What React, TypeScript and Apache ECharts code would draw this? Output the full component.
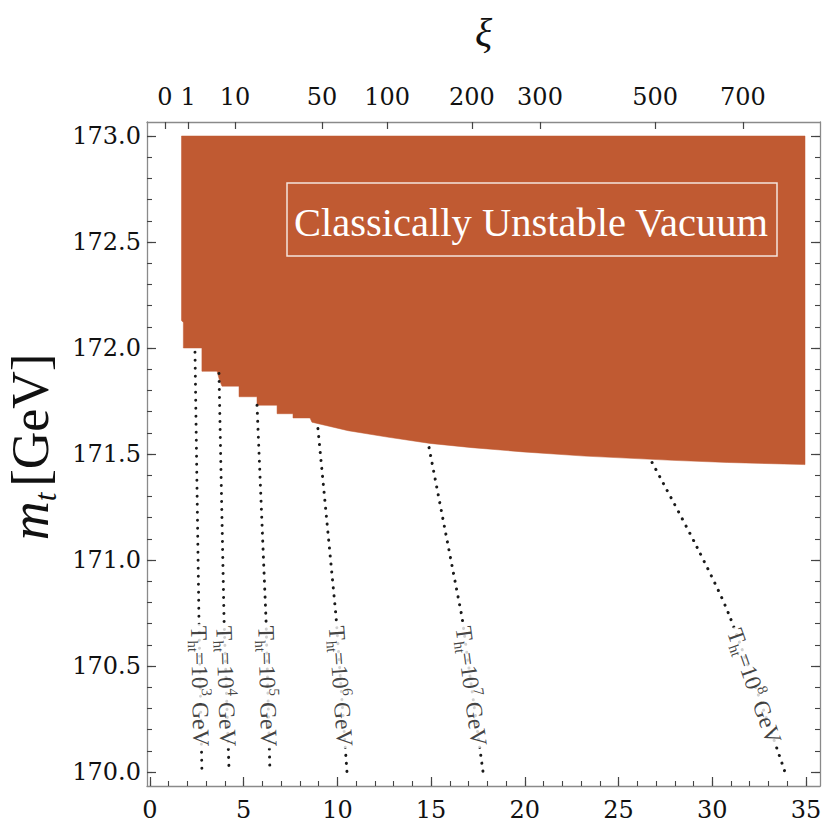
import React, { useEffect, useRef } from "react";
import * as echarts from "echarts";

// ---- axis ranges ----
const xMin = -0.16;
const xMax = 35.75;
const yMin = 169.934;
const yMax = 173.066;

// ---- tick values / labels ----
const xMajorTicks = [0, 5, 10, 15, 20, 25, 30, 35];
const xMinorTicks = [0, 1, 2, 3, 4, 5, 6, 7, 8, 9, 10, 11, 12, 13, 14, 15, 16, 17, 18, 19, 20, 21, 22, 23, 24, 25, 26, 27, 28, 29, 30, 31, 32, 33, 34, 35];
const yMajorTicks = [170.0, 170.5, 171.0, 171.5, 172.0, 172.5, 173.0];
const yMinorTicks = [170.0, 170.1, 170.2, 170.3, 170.4, 170.5, 170.6, 170.7, 170.8, 170.9, 171.0, 171.1, 171.2, 171.3, 171.4, 171.5, 171.6, 171.7, 171.8, 171.9, 172.0, 172.1, 172.2, 172.3, 172.4, 172.5, 172.6, 172.7, 172.8, 172.9, 173.0];
const xiLabels = ["0", "1", "10", "50", "100", "200", "300", "500", "700"];
const xiPositions = [0.8, 2.03, 4.54, 9.18, 12.65, 17.18, 20.81, 26.95, 31.64];

// ---- unstable region boundary ----
const regionX = [1.68, 1.68, 1.78, 1.78, 2.77, 2.77, 3.58, 3.7, 3.84, 4.75, 4.75, 5.71, 5.71, 6.78, 6.78, 7.63, 7.63, 8.54, 8.64, 10.57, 12.65, 14.94, 17.18, 19.9, 23.2, 27.9, 30.8, 34.95, 34.95];
const regionY = [173.0, 172.13, 172.12, 172.0, 172.0, 171.89, 171.89, 171.85, 171.82, 171.82, 171.77, 171.77, 171.73, 171.73, 171.69, 171.69, 171.67, 171.67, 171.65, 171.61, 171.58, 171.55, 171.53, 171.51, 171.49, 171.47, 171.46, 171.45, 173.0];

// ---- T_ht contours ----
const t3X = [2.4, 2.61, 2.77];
const t3Y = [171.98, 170.73, 170.0];
const t4X = [3.68, 3.95, 4.22];
const t4Y = [171.88, 170.72, 170.0];
const t5X = [5.71, 6.19, 6.4];
const t5Y = [171.73, 170.72, 170.0];
const t6X = [8.96, 9.93, 10.51];
const t6Y = [171.62, 170.73, 170.0];
const t7X = [14.89, 16.65, 17.77];
const t7Y = [171.53, 170.73, 170.0];
const t8X = [26.79, 29.19, 30.95, 33.88];
const t8Y = [171.46, 171.06, 170.73, 170.0];
const contourExponents = ["3", "4", "5", "6", "7", "8"];
const labelCenterY = 170.405;

const FONT = "'Liberation Serif', 'DejaVu Serif', serif";
const TICKFONT = "'DejaVu Serif', serif";
const BROWN = "#C05A32";

export default function App() {
  const ref = useRef<HTMLDivElement>(null);
  useEffect(() => {
    if (!ref.current) return;
    const chart = echarts.init(ref.current, undefined, { renderer: "svg" });
    const curves = [
      [t3X, t3Y],
      [t4X, t4Y],
      [t5X, t5Y],
      [t6X, t6Y],
      [t7X, t7Y],
      [t8X, t8Y],
    ];
    const frameColor = "#8a8a8a";
    const tickColor = "#444";

    const xAxisBase = {
      type: "value",
      min: xMin,
      max: xMax,
      splitLine: { show: false },
    };
    const yAxisBase = {
      type: "value",
      min: yMin,
      max: yMax,
      splitLine: { show: false },
    };

    const curveSeries = curves.map(([xs, ys], i) => ({
      type: "line",
      name: "T" + contourExponents[i],
      data: xs.map((x, j) => [x, ys[j]]),
      showSymbol: false,
      smooth: i === 5 ? 0.3 : false,
      silent: true,
      z: 3,
      lineStyle: { color: "#1a1a1a", width: 3, type: [0.1, 7.9], cap: "round" },
    }));

    const tickLabelStyle = { fontSize: 24, fontFamily: TICKFONT, color: "#111" };

    const option: any = {
      animation: false,
      backgroundColor: "#ffffff",
      grid: { left: 147, right: 17, top: 122, bottom: 44, containLabel: false, outerBoundsMode: "none" },
      xAxis: [
        {
          ...xAxisBase,
          position: "bottom",
          axisLine: { show: true, onZero: false, lineStyle: { color: frameColor, width: 1.3 } },
          axisTick: { show: true, inside: true, length: 9, customValues: xMajorTicks, lineStyle: { color: tickColor, width: 1.2 } },
          axisLabel: { show: true, customValues: xMajorTicks, margin: 12, ...tickLabelStyle },
        },
        {
          ...xAxisBase,
          position: "bottom",
          axisLine: { show: false, onZero: false },
          axisTick: { show: true, inside: true, length: 5, customValues: xMinorTicks, lineStyle: { color: tickColor, width: 1.1 } },
          axisLabel: { show: false },
        },
        {
          ...xAxisBase,
          position: "top",
          axisLine: { show: true, onZero: false, lineStyle: { color: frameColor, width: 1.3 } },
          axisTick: { show: true, inside: true, length: 7, customValues: xiPositions, lineStyle: { color: tickColor, width: 1.2 } },
          axisLabel: {
            show: true,
            customValues: xiPositions,
            margin: 13,
            ...tickLabelStyle,
            formatter: (v: number) => {
              let best = 0;
              xiPositions.forEach((p, i) => {
                if (Math.abs(p - v) < Math.abs(xiPositions[best] - v)) best = i;
              });
              return xiLabels[best];
            },
          },
          name: "ξ",
          nameLocation: "middle",
          nameGap: 70,
          nameTextStyle: { fontSize: 40, fontStyle: "italic", fontFamily: FONT, color: "#111" },
        },
      ],
      yAxis: [
        {
          ...yAxisBase,
          position: "left",
          axisLine: { show: true, onZero: false, lineStyle: { color: frameColor, width: 1.3 } },
          axisTick: { show: true, inside: true, length: 9, customValues: yMajorTicks, lineStyle: { color: tickColor, width: 1.2 } },
          axisLabel: {
            show: true,
            customValues: yMajorTicks,
            margin: 6,
            ...tickLabelStyle,
            formatter: (v: number) => v.toFixed(1),
          },
          name: "{i|m}{s|t}  {n|[GeV]}",
          nameLocation: "middle",
          nameRotate: 90,
          nameGap: 76,
          nameTextStyle: {
            fontFamily: FONT,
            color: "#111",
            rich: {
              i: { fontSize: 54, fontStyle: "italic", fontFamily: FONT, color: "#111", lineHeight: 62, verticalAlign: "middle", padding: [0, 0, 0, 14] },
              s: { fontSize: 31, fontStyle: "italic", fontFamily: FONT, color: "#111", verticalAlign: "bottom", lineHeight: 62 },
              n: { fontSize: 52, fontFamily: FONT, color: "#111", lineHeight: 62, verticalAlign: "middle" },
            },
          },
        },
        {
          ...yAxisBase,
          position: "left",
          axisLine: { show: false, onZero: false },
          axisTick: { show: true, inside: true, length: 5, customValues: yMinorTicks, lineStyle: { color: tickColor, width: 1.1 } },
          axisLabel: { show: false },
        },
        {
          ...yAxisBase,
          position: "right",
          axisLine: { show: true, onZero: false, lineStyle: { color: frameColor, width: 1.3 } },
          axisTick: { show: true, inside: true, length: 9, customValues: yMajorTicks, lineStyle: { color: tickColor, width: 1.2 } },
          axisLabel: { show: false },
        },
        {
          ...yAxisBase,
          position: "right",
          axisLine: { show: false, onZero: false },
          axisTick: { show: true, inside: true, length: 5, customValues: yMinorTicks, lineStyle: { color: tickColor, width: 1.1 } },
          axisLabel: { show: false },
        },
      ],
      series: [
        {
          type: "custom",
          name: "Classically unstable",
          silent: true,
          z: 1,
          data: [[0, 0]],
          renderItem: (_params: any, api: any) => {
            const pts = regionX.map((x, i) => api.coord([x, regionY[i]]));
            return { type: "polygon", shape: { points: pts }, style: { fill: BROWN, stroke: BROWN, lineWidth: 0.5 } };
          },
        },
        ...curveSeries,
      ],
      graphic: [
        {
          type: "rect",
          shape: { x: 287, y: 183, width: 490, height: 73 },
          style: { fill: "none", stroke: "#f4e4dc", lineWidth: 1.5 },
          z: 10,
        },
        {
          type: "text",
          x: 531,
          y: 222,
          style: {
            text: "Classically Unstable Vacuum",
            fill: "#ffffff",
            font: `40.5px ${FONT}`,
            textAlign: "center",
            textVerticalAlign: "middle",
          },
          z: 11,
        },
      ],
    };
    chart.setOption(option);

    // label series placed along each contour, rotated to follow it
    const labelData = curves.map(([xs, ys], i) => {
      const n = xs.length;
      const x1 = xs[n - 2], y1 = ys[n - 2], x2 = xs[n - 1], y2 = ys[n - 1];
      const f = (y1 - labelCenterY) / (y1 - y2);
      const cx = x1 + (x2 - x1) * f;
      const p1 = chart.convertToPixel({ gridIndex: 0 }, [x1, y1]) as number[];
      const p2 = chart.convertToPixel({ gridIndex: 0 }, [x2, y2]) as number[];
      const ang = (-Math.atan2(p2[1] - p1[1], p2[0] - p1[0]) * 180) / Math.PI;
      return {
        value: [cx, labelCenterY],
        label: {
          rotate: ang,
          formatter: `{m|T}{s|ht}{m|=10}{p|${contourExponents[i]}}{m| GeV}`,
        },
      };
    });
    chart.setOption({
      series: [
        ...option.series,
        {
          type: "scatter",
          name: "labels",
          symbolSize: 0,
          silent: true,
          z: 5,
          data: labelData,
          label: {
            show: true,
            position: "inside",
            backgroundColor: "#ffffff",
            padding: [0, 2, 0, 2],
            color: "#111",
            rich: {
              m: { fontSize: 23.5, fontFamily: FONT, color: "#111", lineHeight: 28, verticalAlign: "middle" },
              s: { fontSize: 15, fontFamily: FONT, color: "#111", lineHeight: 28, verticalAlign: "bottom" },
              p: { fontSize: 15, fontFamily: FONT, color: "#111", lineHeight: 28, verticalAlign: "top" },
            },
          },
        },
      ],
    });

    return () => chart.dispose();
  }, []);
  return <div ref={ref} style={{ position: "fixed", left: 0, top: 0, width: 837, height: 830 }} />;
}
